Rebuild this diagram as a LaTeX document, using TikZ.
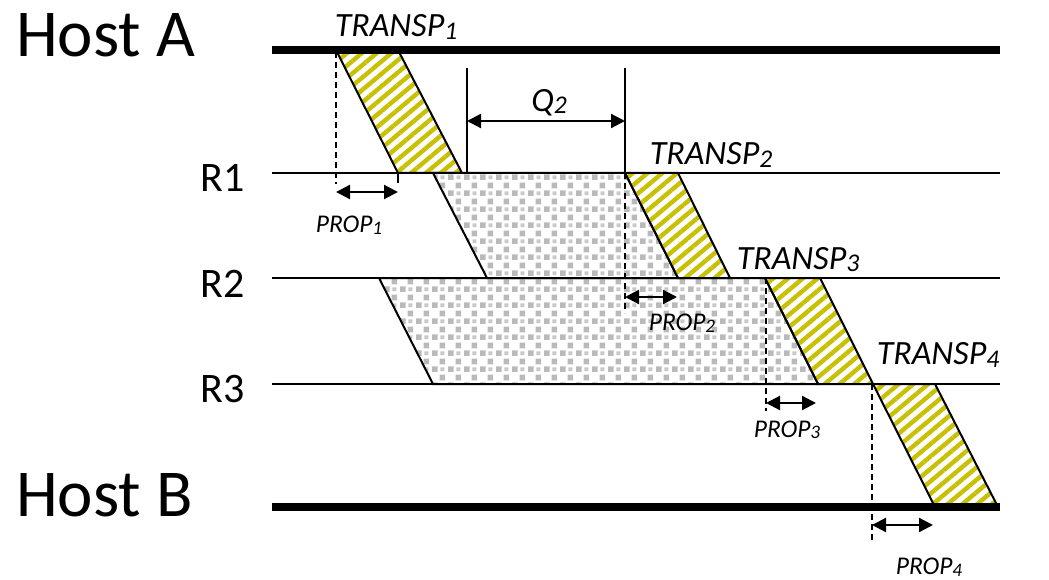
\documentclass[tikz,border=0pt]{standalone}
\usepackage{fontspec}
\setmainfont{Carlito}
\usetikzlibrary{arrows.meta,patterns.meta}
\definecolor{hatchy}{RGB}{200,192,0}
\definecolor{sqgray}{RGB}{186,186,186}
\newcommand{\smalldig}[1]{\raisebox{-0.06em}{\scalebox{0.75}{#1}}}
\tikzdeclarepattern{name=graysq, type=colored,
  bounding box={(0pt,0pt) and (16pt,16pt)}, tile size={(16pt,16pt)},
  code={\fill[sqgray] (0pt,0pt) rectangle (6pt,6pt);
        \fill[sqgray] (8pt,8pt) rectangle (14pt,14pt);
        \fill[sqgray!80] (9pt,1pt) rectangle (13pt,5pt);}}
\begin{document}
\begin{tikzpicture}[x=1pt,y=-1pt,
  host/.style={line width=8pt},
  router/.style={line width=1.8pt},
  pkt/.style={draw=black,line width=2pt,line join=miter,
    pattern={Lines[angle=40,distance=9.5pt,line width=4.4pt]}, pattern color=hatchy},
  queue/.style={draw=black,line width=2pt,line join=miter,pattern=graysq},
  guide/.style={line width=1.9pt,dash pattern=on 6pt off 4pt},
  tickln/.style={line width=1.8pt},
  dim/.style={line width=2.2pt,{Triangle[length=14pt,width=14pt]}-{Triangle[length=14pt,width=14pt]}},
  big/.style={font=\fontsize{67}{72}\selectfont, inner sep=0pt, anchor=base west},
  rlbl/.style={font=\fontsize{42}{46}\selectfont, inner sep=0pt, anchor=base west},
  tlbl/.style={font=\fontsize{34}{38}\selectfont\itshape, inner sep=0pt},
  plbl/.style={font=\fontsize{25.5}{28}\selectfont\itshape, inner sep=0pt},
]
\useasboundingbox[fill=white] (0,0) rectangle (1049,580);

% queues (gray)
\filldraw[queue] (433,173) -- (625,173) -- (678,278) -- (487,278) -- cycle;
\filldraw[queue] (379,278) -- (765,278) -- (818,384) -- (433,384) -- cycle;

% packets (hatched)
\filldraw[pkt] (336,50) -- (398,50) -- (462,173) -- (398,173) -- cycle;
\filldraw[pkt] (625,173) -- (678,173) -- (730,278) -- (678,278) -- cycle;
\filldraw[pkt] (765,278) -- (820,278) -- (873,384) -- (818,384) -- cycle;
\filldraw[pkt] (873,384) -- (935,384) -- (998,507) -- (935,507) -- cycle;

% time lines
\coordinate (A0) at (272,50);  \coordinate (A1) at (1000,50);
\coordinate (R10) at (272,173); \coordinate (R11) at (1000,173);
\coordinate (R20) at (272,278); \coordinate (R21) at (1000,278);
\coordinate (R30) at (272,384); \coordinate (R31) at (1000,384);
\coordinate (B0) at (272,507); \coordinate (B1) at (1000,507);
\draw[host] (A0) -- (A1);
\draw[router] (R10) -- (R11);
\draw[router] (R20) -- (R21);
\draw[router] (R30) -- (R31);
\draw[host] (B0) -- (B1);

% labels
\node[big] (hA) at (16,57) {Host A};
\node[big] (hB) at (16,516) {Host B};
\node[rlbl] (r1) at (200,192) {R1};
\node[rlbl] (r2) at (200,297) {R2};
\node[rlbl] (r3) at (200,402) {R3};

% PROP1
\coordinate (p1a) at (336,52); \coordinate (p1b) at (336,184);
\draw[guide] (p1a) -- (p1b);
\coordinate (t1a) at (398,173); \coordinate (t1b) at (398,183);
\draw[tickln] (t1a) -- (t1b);
\coordinate (d1a) at (336,192); \coordinate (d1b) at (398,192);
\draw[dim] (d1a) -- (d1b);
\node[plbl] (prop1) at (349,225) {PROP\smalldig{1}};

% Q2
\coordinate (q1a) at (467,68); \coordinate (q1b) at (467,173);
\coordinate (q2a) at (625,68); \coordinate (q2b) at (625,173);
\draw[router] (q1a) -- (q1b);
\draw[router] (q2a) -- (q2b);
\coordinate (qd1) at (467,121); \coordinate (qd2) at (625,121);
\draw[dim] (qd1) -- (qd2);
\node[tlbl] (q2) at (549,103) {Q\smalldig{2}};

% PROP2
\coordinate (p2a) at (625,173); \coordinate (p2b) at (625,313);
\draw[guide] (p2a) -- (p2b);
\coordinate (d2a) at (625,297); \coordinate (d2b) at (677,297);
\draw[dim] (d2a) -- (d2b);
\node[plbl] (prop2) at (682,323) {PROP\smalldig{2}};

% PROP3
\coordinate (p3a) at (766,278); \coordinate (p3b) at (766,411);
\draw[guide] (p3a) -- (p3b);
\coordinate (d3a) at (766,403); \coordinate (d3b) at (816,403);
\draw[dim] (d3a) -- (d3b);
\node[plbl] (prop3) at (787,430) {PROP\smalldig{3}};

% PROP4
\coordinate (p4a) at (872,384); \coordinate (p4b) at (872,543);
\draw[guide] (p4a) -- (p4b);
\coordinate (d4a) at (872,525); \coordinate (d4b) at (933,525);
\draw[dim] (d4a) -- (d4b);
\node[plbl] (prop4) at (929,567) {PROP\smalldig{4}};

% TRANSP labels
\node[tlbl] (tr1) at (396,27) {TRANSP\smalldig{1}};
\node[tlbl] (tr2) at (711,155) {TRANSP\smalldig{2}};
\node[tlbl] (tr3) at (798,260) {TRANSP\smalldig{3}};
\node[tlbl] (tr4) at (938,355) {TRANSP\smalldig{4}};
\end{tikzpicture}
\end{document}
